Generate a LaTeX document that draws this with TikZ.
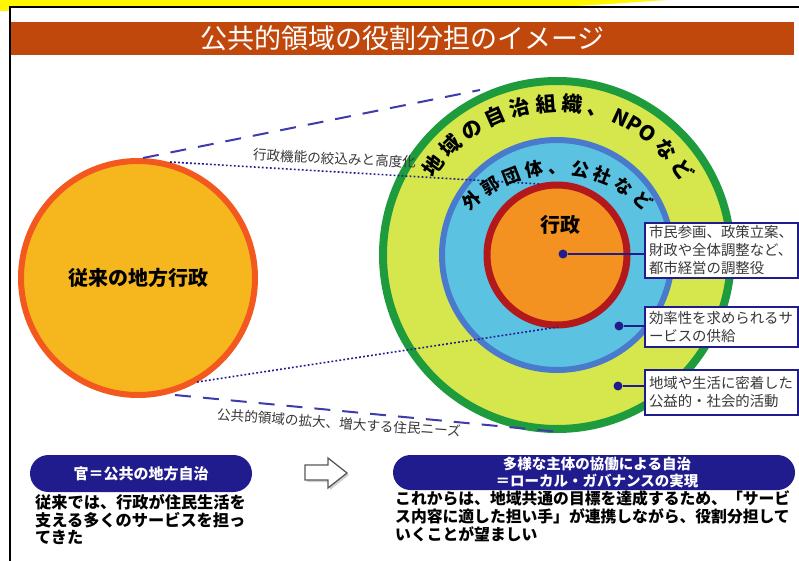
\documentclass[tikz,border=0pt]{standalone}
\usepackage{fontspec}
\newfontfamily\jp{Noto Sans CJK JP}
\usetikzlibrary{decorations.text}
\definecolor{topyellow}{RGB}{255,246,0}
\definecolor{titlebar}{RGB}{192,72,12}
\definecolor{oldfill}{RGB}{246,183,30}
\definecolor{oldline}{RGB}{243,88,30}
\definecolor{greenline}{RGB}{30,155,60}
\definecolor{yellowfill}{RGB}{214,231,78}
\definecolor{blueline}{RGB}{74,122,204}
\definecolor{bluefill}{RGB}{92,194,226}
\definecolor{redline}{RGB}{178,24,28}
\definecolor{orangefill}{RGB}{243,146,32}
\definecolor{navy}{RGB}{33,28,142}
\definecolor{dashcol}{RGB}{62,60,170}
\definecolor{textgray}{RGB}{55,55,55}
\begin{document}
\begin{tikzpicture}[x=1pt,y=-1pt,
  ring/.style={circle, inner sep=0pt, outer sep=0pt},
  dashline/.style={draw=dashcol, line width=2pt, dash pattern=on 16pt off 12pt},
  dotline/.style={draw=navy, line width=1.6pt, dash pattern=on 1.8pt off 2.2pt},
  lbl/.style={font=\jp\fontsize{13.6}{14}\selectfont, text=textgray, inner sep=0pt},
  callout/.style={draw=navy, line width=2.2pt, fill=white, text width=145pt, align=left,
    inner xsep=4pt, inner ysep=0pt, font=\jp\fontsize{14.4}{18}\selectfont, text=textgray},
  dotmark/.style={circle, fill=navy, inner sep=0pt, minimum size=9pt},
  leader/.style={draw=navy, line width=2pt},
  pill/.style={fill=navy, text=white, align=center, inner sep=0pt},
  pilltext/.style={text=white, inner sep=0pt, font=\jp\bfseries\fontsize{14.5}{16}\selectfont},
  btext/.style={anchor=west, inner sep=0pt, font=\jp\bfseries\fontsize{16.2}{18}\selectfont, text=black}
]
\useasboundingbox (0,0) rectangle (799,561);
\fill[white] (0,0) rectangle (799,561);
% top yellow band and frame
\fill[topyellow] (0,0) -- (668,0) .. controls (620,3) and (575,7) .. (520,8) -- (9,8) -- (9,11) -- (0,11) -- cycle;
\draw[line width=2pt] (9.5,561) -- (9.5,7.5) -- (799,7.5);
% title bar
\node[fill=titlebar, minimum width=783pt, minimum height=33pt, inner sep=0pt, text=white,
  font=\jp\fontsize{27}{27}\selectfont] (title) at (402.5,38.5) {公共的領域の役割分担のイメージ};

% left circle
\node[ring, draw=oldline, fill=oldfill, line width=6pt, minimum size=234pt,
  font=\jp\bfseries\fontsize{20}{20}\selectfont] (old) at (138,278) {従来の地方行政};

% right concentric circles
\node[ring, draw=greenline, fill=yellowfill, line width=8pt, minimum size=348pt] (outer) at (557,255) {};
\node[ring, draw=blueline, fill=bluefill, line width=6pt, minimum size=230pt] (mid) at (557,255) {};
\node[ring, draw=redline, fill=orangefill, line width=7pt, minimum size=140pt] (inner) at (557,255) {};
\node[font=\jp\bfseries\fontsize{20}{20}\selectfont, inner sep=0pt] (gyosei) at (560,225) {行政};

% connector end points
\coordinate (dA1) at (143,158);
\coordinate (dA2) at (480,90);
\coordinate (dB1) at (175,395);
\coordinate (dB2) at (560,432);
\coordinate (pA1) at (170,162);
\coordinate (pA2) at (540,184);
\coordinate (pB1) at (197,382);
\coordinate (pB2) at (558,327);
\draw[dashline] (dA1) -- (dA2);
\draw[dashline] (dB1) -- (dB2);
\draw[dotline] (pA1) -- (pA2);
\draw[dotline] (pB1) -- (pB2);

% curved ring texts
\path[decorate, decoration={text along path, text align={fit to path stretching spaces},
  text={|\jp\bfseries\fontsize{20.5}{20}\selectfont|地 域 の 自 治 組 織 、 NPO な ど}}]
  (557,256) ++(212:145) arc[start angle=212, end angle=328, radius=145];
\path[decorate, decoration={text along path, text align={fit to path},
  text={|\jp\bfseries\fontsize{18}{18}\selectfont|外郭団体、公社など}}]
  (557,293) ++(223:119) arc[start angle=223, end angle=317, radius=119];

% line labels
\node[lbl, rotate=-2.6] (labA) at (334.5,158.5) {行政機能の絞込みと高度化};
\node[lbl, rotate=-4] (labB) at (339,423) {公共的領域の拡大、増大する住民ニーズ};

% callouts
\node[callout, minimum height=55pt] (b1) at (721.5,250.5) {市民参画、政策立案、\\財政や全体調整など、\\都市経営の調整役};
\node[callout, minimum height=40pt] (b2) at (721.5,327) {効率性を求められるサ\\ービスの供給};
\node[callout, minimum height=45pt] (b3) at (721.5,392.5) {地域や生活に密着した\\公益的・社会的活動};
\node[dotmark] (d1) at (563,254) {};
\node[dotmark] (d2) at (619,326) {};
\node[dotmark] (d3) at (618,386) {};
\draw[leader] (d1) -- (d1 -| b1.west);
\draw[leader] (d2) -- (d2 -| b2.west);
\draw[leader] (d3) -- (d3 -| b3.west);

% bottom pills
\node[pill, minimum width=222pt, minimum height=37pt, rounded corners=18.5pt,
  font=\jp\bfseries\fontsize{15}{16}\selectfont] (p1) at (141,473.5) {官＝公共の地方自治};
\node[pill, minimum width=402pt, minimum height=35pt, rounded corners=17.5pt] (p2) at (594,472.5) {};
\node[pilltext] (p2a) at (597,464) {多様な主体の協働による自治};
\node[pilltext] (p2b) at (597,481) {＝ローカル・ガバナンスの実現};

% hollow arrow
\fill[black!18] (307,467) -- (330,467) -- (330,460) -- (349,475) -- (330,490) -- (330,482) -- (307,482) -- cycle;
\draw[fill=white, draw=black!65, line width=1.3pt, line join=miter] (305,465) -- (328,465) -- (328,458) -- (347,473) -- (328,488) -- (328,480) -- (305,480) -- cycle;

% bottom texts
\node[btext] (l1) at (35,502) {従来では、行政が住民生活を};
\node[btext] (l2) at (35,520) {支える多くのサービスを担っ};
\node[btext] (l3) at (35,537.5) {てきた};
\node[btext, font=\jp\bfseries\fontsize{15.8}{18}\selectfont] (r1) at (395,498) {これからは、地域共通の目標を達成するため、「サービ};
\node[btext, font=\jp\bfseries\fontsize{15.8}{18}\selectfont] (r2) at (395,516) {ス内容に適した担い手」が連携しながら、役割分担して};
\node[btext, font=\jp\bfseries\fontsize{15.8}{18}\selectfont] (r3) at (395,534) {いくことが望ましい};
\end{tikzpicture}
\end{document}
